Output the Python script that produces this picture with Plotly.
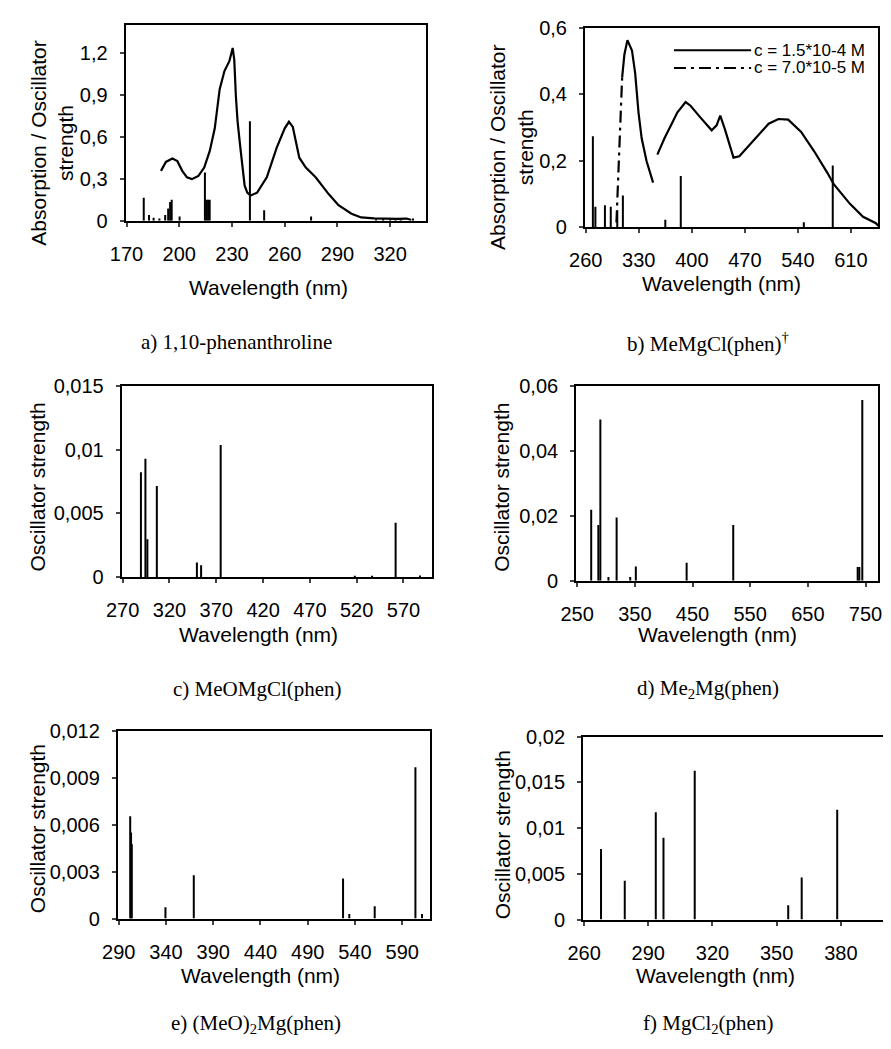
import plotly.graph_objects as go

# page is 891x1049; the html body adds an 8px margin, so the figure is drawn 8px smaller
# and every page-pixel position below is shifted by that margin
PAGE_W, PAGE_H, OFF = 891, 1049, 8
W, H = PAGE_W - OFF, PAGE_H - OFF

# ---------------- data ----------------
# a) 1,10-phenanthroline : absorption curve + calculated oscillator strengths
a_curve_wl = [189.6, 192.4, 196.1, 198.9, 201.7, 204.4, 207.2, 210.9, 214.2, 217.4, 220.2, 223.0,
              225.7, 228.5, 230.4, 231.3, 232.2, 233.2, 234.6, 236.0, 237.2, 238.7, 240.6, 244.3,
              249.8, 255.4, 260.0, 262.4, 264.6, 268.3, 272.0, 277.6, 285.0, 290.6, 298.0, 303.5,
              310.9, 323.9, 329.4, 332.0]
a_curve_abs = [0.356, 0.42, 0.444, 0.426, 0.356, 0.31, 0.297, 0.32, 0.38, 0.50, 0.66, 0.94,
               1.07, 1.14, 1.235, 1.15, 0.893, 0.707, 0.54, 0.356, 0.25, 0.20, 0.18, 0.20,
               0.31, 0.52, 0.66, 0.707, 0.67, 0.45, 0.38, 0.31, 0.19, 0.11, 0.05, 0.023,
               0.016, 0.012, 0.015, 0.005]
a_stick_wl = [179.8, 182.8, 185.4, 188.7, 192.0, 193.7, 194.8, 195.7, 200.2, 214.6, 215.5,
              216.4, 217.3, 240.2, 248.3, 275.0, 312.0, 316.0, 320.0, 323.0, 326.0, 333.0]
a_stick_f = [0.164, 0.04, 0.02, 0.015, 0.04, 0.086, 0.133, 0.15, 0.03, 0.344, 0.15,
             0.15, 0.15, 0.71, 0.075, 0.03, 0.01, 0.012, 0.01, 0.012, 0.008, 0.015]

# b) MeMgCl(phen)
b_c1_wl_1 = [308.0, 311.0, 315.0, 321.0, 325.2, 329.6, 333.8, 340.3, 348.9]
b_c1_abs_1 = [0.45, 0.52, 0.563, 0.532, 0.464, 0.346, 0.268, 0.199, 0.135]
b_c1_wl_2 = [354.5, 363.9, 372.5, 381.0, 391.8, 398.3, 411.2, 426.2, 432.7, 437.5, 443.4, 449.8,
             455.0, 462.7, 479.9, 501.4, 514.3, 527.2, 544.3, 561.5, 578.7, 587.3, 608.7, 626.0,
             643.0, 646.0]
b_c1_abs_2 = [0.219, 0.268, 0.307, 0.346, 0.377, 0.366, 0.331, 0.292, 0.307, 0.336, 0.297, 0.248,
              0.21, 0.214, 0.258, 0.312, 0.326, 0.324, 0.287, 0.229, 0.165, 0.13, 0.071, 0.032,
              0.013, 0.005]
b_c2_wl = [300.5, 304.0, 308.0]
b_c2_abs = [0.015, 0.235, 0.45]
b_stick_wl = [269.4, 272.7, 285.3, 293.0, 301.6, 309.0, 365.0, 385.4, 547.8, 586.0]
b_stick_f = [0.274, 0.062, 0.067, 0.062, 0.052, 0.096, 0.023, 0.155, 0.016, 0.186]
b_legend = ["c = 1.5*10-4 M", "c = 7.0*10-5 M"]

# c) MeOMgCl(phen)
c_stick_wl = [289.5, 294.3, 296.4, 306.5, 349.3, 353.8, 374.7, 518.0, 536.5, 561.6, 587.6]
c_stick_f = [0.00823, 0.00928, 0.00297, 0.00715, 0.00113, 0.00092, 0.01036, 0.0001, 0.0001,
             0.00426, 0.00012]

# d) Me2Mg(phen)
d_stick_wl = [274.3, 286.7, 290.2, 304.2, 318.4, 342.0, 351.7, 439.8, 520.6, 736.4, 739.3, 744.4]
d_stick_f = [0.0219, 0.0172, 0.0497, 0.0012, 0.0195, 0.0012, 0.0044, 0.0056, 0.0172, 0.0043,
             0.0043, 0.0557]

# e) (MeO)2Mg(phen)
e_stick_wl = [302.1, 303.0, 303.8, 339.4, 369.4, 527.4, 534.0, 560.9, 604.0, 611.0]
e_stick_f = [0.00654, 0.0055, 0.00475, 0.00073, 0.00277, 0.00256, 0.0003, 0.00079, 0.00967, 0.0003]

# f) MgCl2(phen)
f_stick_wl = [267.9, 279.0, 293.5, 297.1, 311.7, 355.4, 361.7, 378.3]
f_stick_f = [0.0077, 0.00424, 0.01173, 0.00895, 0.01626, 0.00157, 0.0046, 0.0120]

# ticks
a_xticks = [170, 200, 230, 260, 290, 320]
a_yticks = [0, 0.3, 0.6, 0.9, 1.2]
a_ylabels = ["0", "0,3", "0,6", "0,9", "1,2"]
b_xticks = [260, 330, 400, 470, 540, 610]
b_yticks = [0, 0.2, 0.4, 0.6]
b_ylabels = ["0", "0,2", "0,4", "0,6"]
c_xticks = [270, 320, 370, 420, 470, 520, 570]
c_yticks = [0, 0.005, 0.01, 0.015]
c_ylabels = ["0", "0,005", "0,01", "0,015"]
d_xticks = [250, 350, 450, 550, 650, 750]
d_yticks = [0, 0.02, 0.04, 0.06]
d_ylabels = ["0", "0,02", "0,04", "0,06"]
e_xticks = [290, 340, 390, 440, 490, 540, 590]
e_yticks = [0, 0.003, 0.006, 0.009, 0.012]
e_ylabels = ["0", "0,003", "0,006", "0,009", "0,012"]
f_xticks = [260, 290, 320, 350, 380]
f_yticks = [0, 0.005, 0.01, 0.015, 0.02]
f_ylabels = ["0", "0,005", "0,01", "0,015", "0,02"]

captions = ["a) 1,10-phenanthroline", "b) MeMgCl(phen)<sup>†</sup>", "c) MeOMgCl(phen)",
            "d) Me<sub>2</sub>Mg(phen)", "e) (MeO)<sub>2</sub>Mg(phen)", "f) MgCl<sub>2</sub>(phen)"]
xtitle = "Wavelength (nm)"
ytitle_ab = "Absorption / Oscillator<br>strength"
ytitle_osc = "Oscillator strength"

# ---------------- layout geometry (page pixels) ----------------
panels = {
    # key: (x0, x1, y0, y1, xrange, yrange)
    "a": (112, 419, 14, 214, [169.5, 340.2], [0, 1.4]),
    "b": (582, 882, 17, 221, [259.0, 646.0], [0, 0.6]),
    "c": (108, 425, 383, 578, [269.0, 600.0], [0, 0.015]),
    "d": (573, 882, 383, 582, [248.3, 772.0], [0, 0.06]),
    "e": (104, 423, 735, 927, [289.0, 619.0], [0, 0.012]),
    "f": (580, 888, 741, 928, [259.5, 400.2], [0, 0.02]),
}
ticks = {
    "a": (a_xticks, a_yticks, a_ylabels),
    "b": (b_xticks, b_yticks, b_ylabels),
    "c": (c_xticks, c_yticks, c_ylabels),
    "d": (d_xticks, d_yticks, d_ylabels),
    "e": (e_xticks, e_yticks, e_ylabels),
    "f": (f_xticks, f_yticks, f_ylabels),
}


def PX(px):
    return (px - OFF) / W


def PY(py):
    return 1 - (py - OFF) / H


SANS = "Liberation Sans, Arial, sans-serif"
SERIF = "Liberation Serif, Times New Roman, serif"


def sticks(wl, f):
    xs, ys = [], []
    for w, v in zip(wl, f):
        xs += [w, w, None]
        ys += [0, v, None]
    return xs, ys


fig = go.Figure()
layout = dict(width=W, height=H, margin=dict(l=0, r=0, t=0, b=0),
              paper_bgcolor="white", plot_bgcolor="white", showlegend=False,
              font=dict(family=SANS, size=20, color="black"))

annotations = []
for i, key in enumerate(["a", "b", "c", "d", "e", "f"]):
    x0, x1, y0, y1, xr, yr = panels[key]
    xt, yt, yl = ticks[key]
    n = "" if i == 0 else str(i + 1)
    layout["xaxis" + n] = dict(
        domain=[PX(x0), min(PX(x1), 1.0)], range=xr, anchor="y" + n,
        tickvals=xt, ticktext=[str(v) for v in xt], ticks="outside", ticklen=4, tickwidth=1.5,
        showline=True, mirror=True, linewidth=2, linecolor="black", showgrid=False,
        zeroline=False, tickfont=dict(size=20), ticklabelstandoff=10)
    layout["yaxis" + n] = dict(
        domain=[PY(y1), PY(y0)], range=yr, anchor="x" + n,
        tickvals=yt, ticktext=yl, ticks="outside", ticklen=4, tickwidth=1.5,
        showline=True, mirror=True, linewidth=2, linecolor="black", showgrid=False,
        zeroline=False, tickfont=dict(size=20), ticklabelstandoff=8)


def add_sticks(wl, f, idx, name):
    xs, ys = sticks(wl, f)
    n = "" if idx == 0 else str(idx + 1)
    fig.add_trace(go.Scatter(x=xs, y=ys, mode="lines", line=dict(color="black", width=2),
                             xaxis="x" + n, yaxis="y" + n, name=name, hoverinfo="skip"))


fig.add_trace(go.Scatter(x=a_curve_wl, y=a_curve_abs, mode="lines", line=dict(color="black", width=2.2),
                         xaxis="x", yaxis="y", name="absorption"))
add_sticks(a_stick_wl, a_stick_f, 0, "oscillator strength")

fig.add_trace(go.Scatter(x=b_c1_wl_1 + [None] + b_c1_wl_2, y=b_c1_abs_1 + [None] + b_c1_abs_2,
                         mode="lines", line=dict(color="black", width=2.2),
                         xaxis="x2", yaxis="y2", name=b_legend[0]))
fig.add_trace(go.Scatter(x=b_c2_wl, y=b_c2_abs, mode="lines",
                         line=dict(color="black", width=2.2, dash="12px,5px,3px,5px"),
                         xaxis="x2", yaxis="y2", name=b_legend[1]))
add_sticks(b_stick_wl, b_stick_f, 1, "oscillator strength")
add_sticks(c_stick_wl, c_stick_f, 2, "oscillator strength")
add_sticks(d_stick_wl, d_stick_f, 3, "oscillator strength")
add_sticks(e_stick_wl, e_stick_f, 4, "oscillator strength")
add_sticks(f_stick_wl, f_stick_f, 5, "oscillator strength")

# manual legend for panel b
shapes = []
leg_rows = [(40, "solid"), (58, "12px,5px,3px,5px")]
for (ly, dash), txt in zip(leg_rows, b_legend):
    shapes.append(dict(type="line", xref="paper", yref="paper", x0=PX(673), x1=PX(752),
                       y0=PY(ly), y1=PY(ly), line=dict(color="black", width=2, dash=dash)))
    annotations.append(dict(text=txt, xref="paper", yref="paper", x=PX(753), y=PY(ly),
                            xanchor="left", yanchor="middle", showarrow=False,
                            font=dict(family=SANS, size=17)))

# axis titles (x)
xt_pos = {"a": (258, 282), "b": (722, 278), "c": (248, 637), "d": (718, 637),
          "e": (250, 985), "f": (716, 985)}
for key, (px, py) in xt_pos.items():
    annotations.append(dict(text=xtitle, xref="paper", yref="paper", x=PX(px), y=PY(py),
                            xanchor="center", yanchor="middle", showarrow=False,
                            font=dict(family=SANS, size=21)))
# axis titles (y)
yt_pos = {"a": (37, 135, ytitle_ab), "b": (507, 139, ytitle_ab), "c": (22, 486, ytitle_osc),
          "d": (497, 486, ytitle_osc), "e": (22, 835, ytitle_osc), "f": (497, 841, ytitle_osc)}
for key, (px, py, t) in yt_pos.items():
    annotations.append(dict(text=t, xref="paper", yref="paper", x=PX(px), y=PY(py),
                            xanchor="center", yanchor="middle", showarrow=False, textangle=-90,
                            font=dict(family=SANS, size=21)))
# captions
cap_pos = [(225, 338), (708, 338), (247, 692), (708, 692), (245, 1035), (708, 1035)]
for (px, py), t in zip(cap_pos, captions):
    annotations.append(dict(text=t, xref="paper", yref="paper", x=PX(px), y=PY(py),
                            xanchor="center", yanchor="middle", showarrow=False,
                            font=dict(family=SERIF, size=21)))

layout["annotations"] = annotations
layout["shapes"] = shapes
fig.update_layout(**layout)
fig.write_html("out.html")
